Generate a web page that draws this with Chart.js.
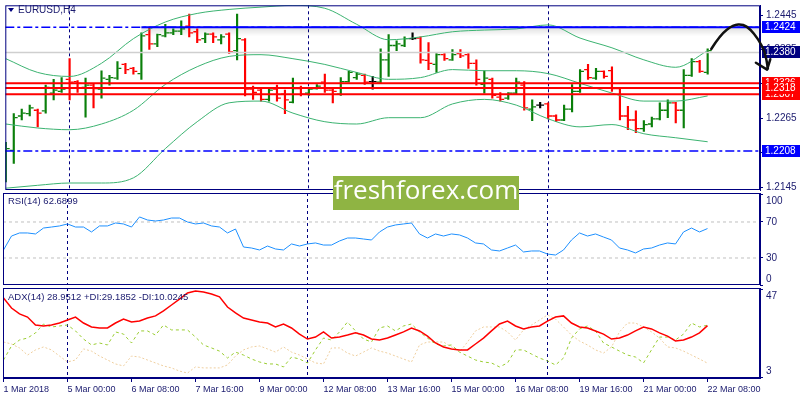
<!DOCTYPE html>
<html>
<head>
<meta charset="utf-8">
<script src="https://cdn.jsdelivr.net/npm/chart.js@4.4.1/dist/chart.umd.min.js"></script>
<style>
  html, body { margin: 0; padding: 0; background: #fff; }
  #wrap { position: relative; width: 800px; height: 400px; }
  canvas { position: absolute; left: 0; top: 0; }
</style>
</head>
<body>
<div id="wrap">
  <canvas id="main" width="800" height="400"></canvas>
  <canvas id="rsi" width="800" height="400"></canvas>
  <canvas id="adx" width="800" height="400"></canvas>
</div>
<script>
// time axis: one label every 8 bars (H4)
const tickIdx = [0, 8, 16, 24, 32, 40, 48, 56, 64, 72, 80, 88];
const tickText = ['1 Mar 2018', '5 Mar 00:00', '6 Mar 08:00', '7 Mar 16:00', '9 Mar 00:00', '12 Mar 08:00',
  '13 Mar 16:00', '15 Mar 00:00', '16 Mar 08:00', '19 Mar 16:00', '21 Mar 00:00', '22 Mar 08:00'];
const separators = [8, 38, 68]; // week starts

// EURUSD H4 bars
const open = [1.2205,1.2209,1.2269,1.2273,1.2279,1.2278,1.2309,1.2312,1.2333,1.2329,
  1.2319,1.2323,1.2316,1.2333,1.2335,1.2359,1.2352,1.2343,1.2411,1.2395,
  1.2409,1.2414,1.2417,1.2426,1.2416,1.2404,1.2412,1.2402,1.2412,1.2383,
  1.2402,1.2316,1.2314,1.2298,1.2316,1.2307,1.2293,1.2317,1.2309,1.2317,
  1.2328,1.2314,1.2307,1.2329,1.2336,1.2340,1.2329,1.2328,1.2367,1.2392,
  1.2392,1.2404,1.2405,1.2366,1.2359,1.2376,1.2367,1.2378,1.2376,1.2361,
  1.2324,1.2333,1.2302,1.2300,1.2309,1.2323,1.2281,1.2288,1.2290,1.2269,
  1.2262,1.2281,1.2312,1.2350,1.2335,1.2347,1.2348,1.2317,1.2269,1.2262,
  1.2247,1.2255,1.2264,1.2279,1.2292,1.2279,1.2340,1.2364,1.2345];
const high = [1.2223,1.2273,1.2281,1.2288,1.2281,1.2323,1.2333,1.2336,1.2369,1.2331,
  1.2335,1.2326,1.2348,1.2340,1.2364,1.2361,1.2354,1.2414,1.2424,1.2412,
  1.2429,1.2421,1.2435,1.2447,1.2421,1.2414,1.2414,1.2411,1.2414,1.2447,
  1.2404,1.2321,1.2316,1.2316,1.2323,1.2314,1.2335,1.2321,1.2317,1.2324,
  1.2342,1.2316,1.2336,1.2347,1.2345,1.2342,1.2338,1.2386,1.2411,1.2400,
  1.2407,1.2414,1.2407,1.2397,1.2378,1.2378,1.2385,1.2385,1.2378,1.2367,
  1.2348,1.2335,1.2310,1.2310,1.2335,1.2329,1.2297,1.2293,1.2292,1.2271,
  1.2288,1.2324,1.2350,1.2359,1.2352,1.2348,1.2355,1.2319,1.2286,1.2278,
  1.2261,1.2267,1.2292,1.2297,1.2293,1.2350,1.2369,1.2366,1.2386];
const low = [1.2154,1.2186,1.2262,1.2269,1.2250,1.2274,1.2297,1.2310,1.2297,1.2310,
  1.2267,1.2283,1.2300,1.2323,1.2333,1.2343,1.2342,1.2333,1.2385,1.2390,
  1.2407,1.2411,1.2411,1.2407,1.2397,1.2397,1.2397,1.2395,1.2378,1.2367,
  1.2304,1.2298,1.2295,1.2295,1.2295,1.2273,1.2292,1.2304,1.2305,1.2316,
  1.2310,1.2292,1.2305,1.2328,1.2333,1.2324,1.2316,1.2326,1.2338,1.2383,
  1.2390,1.2402,1.2361,1.2350,1.2345,1.2366,1.2366,1.2371,1.2352,1.2323,
  1.2309,1.2300,1.2295,1.2298,1.2307,1.2279,1.2261,1.2283,1.2264,1.2259,
  1.2261,1.2276,1.2310,1.2333,1.2333,1.2335,1.2312,1.2262,1.2245,1.2240,
  1.2242,1.2250,1.2262,1.2266,1.2257,1.2248,1.2338,1.2345,1.2342];
const close = [1.2212,1.2266,1.2274,1.2283,1.2274,1.2319,1.2314,1.2316,1.2328,1.2326,
  1.2323,1.2317,1.2335,1.2336,1.2352,1.2350,1.2347,1.2409,1.2395,1.2411,
  1.2414,1.2417,1.2421,1.2414,1.2402,1.2412,1.2407,1.2407,1.2381,1.2404,
  1.2316,1.2310,1.2298,1.2314,1.2300,1.2297,1.2317,1.2307,1.2316,1.2321,
  1.2314,1.2312,1.2329,1.2345,1.2342,1.2328,1.2329,1.2367,1.2392,1.2395,
  1.2404,1.2404,1.2367,1.2361,1.2376,1.2369,1.2376,1.2374,1.2361,1.2333,
  1.2335,1.2305,1.2298,1.2309,1.2328,1.2283,1.2285,1.2288,1.2269,1.2262,
  1.2281,1.2312,1.2347,1.2336,1.2347,1.2338,1.2317,1.2269,1.2262,1.2247,
  1.2254,1.2264,1.2279,1.2292,1.2279,1.2340,1.2364,1.2347,1.2383];

// Bollinger bands, read every 4 bars
const bbIdx = [0,4,8,12,16,20,24,28,32,36,40,44,48,52,56,60,64,68,72,76,80,84,88];
const bbUpper = [1.2369,1.2345,1.2338,1.2361,1.2404,1.2433,1.2448,1.2455,1.2459,1.2462,1.2457,1.2429,
  1.2402,1.2407,1.2416,1.2419,1.2421,1.2428,1.2405,1.2388,1.2367,1.2354,1.2383];
const bbMid = [1.2255,1.2248,1.2245,1.2255,1.2279,1.2324,1.2355,1.2373,1.2376,1.2369,1.2359,1.2345,
  1.2333,1.2336,1.2350,1.2348,1.2348,1.2343,1.2326,1.2309,1.2295,1.2295,1.2304];
const bbLower = [1.2143,1.2148,1.2152,1.2152,1.2161,1.2212,1.2259,1.2292,1.2295,1.2274,1.2259,1.2255,
  1.2266,1.2266,1.2290,1.2298,1.2288,1.2264,1.2250,1.2254,1.2238,1.2231,1.2224];

// horizontal levels
const levelGray = 1.2380;
const levelBlue = [1.2424, 1.2208];
const trendStart = 17; // solid 1.2424 ray starts here
const levelRed = [1.2326, 1.2307, 1.2318];
const priceTicks = [1.2145, 1.2205, 1.2265, 1.2325, 1.2385, 1.2445];

// hand-drawn forecast arrow, [bar, price]
const arrowPath = [[88.45,1.2386],[89.6,1.2411],[91.2,1.2428],[92.45,1.2429],[93.3,1.2421],
  [94.3,1.2404],[95.2,1.2381],[95.55,1.2352]];
const arrowHead = [[94.05,1.2362],[95.45,1.2350],[95.85,1.2368]];

// RSI(14)
const rsi = [38.9,54.4,57.8,57.8,56.7,63.3,64.4,65.6,67.8,64.4,
  64.4,58.9,65.6,65.6,68.9,67.8,64.4,75.6,72.2,71.1,
  72.2,74.4,74.4,70.0,67.8,68.9,65.6,64.4,57.8,62.2,
  42.2,41.1,38.9,43.3,40.0,38.9,45.6,43.3,45.6,46.7,
  44.4,44.4,48.9,52.2,52.2,51.1,50.0,58.9,64.4,66.7,
  67.8,68.9,56.7,52.2,56.7,54.4,56.7,55.6,52.2,46.7,
  45.6,38.9,37.8,41.1,44.4,36.7,37.8,37.8,34.4,33.3,
  38.9,50.0,57.8,54.4,56.7,53.3,50.0,41.1,38.9,35.6,
  40.0,41.1,44.4,46.7,45.6,58.9,63.3,58.9,62.7];
const rsiLevels = [30, 70];
const rsiTicks = [0, 30, 70, 100];

// ADX(14)
const adx = [43.0,37.9,34.9,33.3,29.3,28.8,29.3,30.3,31.8,33.3,
  30.3,28.3,27.8,27.8,30.3,32.3,30.8,31.3,32.8,33.9,
  36.4,39.4,42.4,45.5,46.5,46.0,45.0,43.5,38.4,35.4,
  32.8,31.8,30.8,30.3,28.3,29.8,27.8,24.7,22.2,23.2,
  25.8,22.7,23.2,24.2,25.3,24.2,22.2,21.7,22.7,24.2,
  25.8,27.8,26.3,23.7,20.2,18.2,17.2,16.7,16.7,19.7,
  22.7,26.3,29.8,31.3,28.8,27.3,28.3,28.8,31.3,33.3,
  33.9,30.3,28.3,27.8,26.3,24.7,22.2,22.7,24.2,26.3,
  28.3,27.3,25.3,23.7,21.2,21.7,23.2,25.3,29.0];
const pdi = [11.6,18.7,21.7,22.7,25.3,29.8,28.3,28.8,29.3,26.3,
  22.2,19.2,20.2,19.2,25.8,24.7,20.2,26.3,26.3,24.2,
  29.3,26.8,26.8,26.8,23.2,19.2,17.7,16.1,12.6,15.6,
  14.1,12.1,10.6,9.6,9.6,8.1,13.1,12.1,10.1,16.7,
  22.7,21.7,25.8,30.8,26.3,22.2,20.7,27.8,28.8,26.3,
  28.8,29.8,25.8,22.7,19.7,18.7,19.2,15.6,13.6,11.6,
  10.6,10.1,8.1,10.1,16.7,16.7,14.6,12.6,11.1,9.1,
  12.6,22.7,27.3,28.8,26.3,20.2,18.2,16.1,14.1,13.1,
  10.1,16.7,23.2,23.2,21.7,24.7,30.3,28.3,29.2];
const mdi = [20.7,19.7,17.7,14.1,16.7,18.2,16.7,13.6,10.6,11.6,
  17.2,16.1,13.6,11.6,9.6,8.6,13.6,13.1,11.6,10.1,
  8.6,7.6,6.0,5.0,8.1,7.6,7.6,7.6,9.1,13.6,
  16.7,18.2,18.7,17.2,15.6,18.2,15.6,14.1,12.1,10.1,
  9.6,17.7,17.7,15.1,13.6,15.6,17.7,16.1,15.1,13.6,
  12.1,10.6,19.2,20.7,20.7,20.7,18.2,15.6,20.7,26.3,
  28.3,28.3,28.3,25.8,21.7,26.8,29.3,31.8,34.4,32.3,
  28.3,24.2,21.2,19.2,16.7,15.1,18.2,25.8,30.3,30.3,
  28.3,25.8,22.7,18.2,17.7,16.1,14.1,12.1,10.0];
const adxTicks = [3, 47];

const NAVY = '#000080';
const LABEL = '#1a1a6e';
const GREEN = '#0a7f0a';
const RED = '#ff0000';
const FONT = '"Liberation Sans", Arial, sans-serif';
const X_MIN = -0.0625, X_MAX = 94.5625;

Chart.defaults.font.family = FONT;

const idx = open.map((_, i) => i);
const barColor = idx.map(i => close[i] > open[i] ? GREEN : (close[i] < open[i] ? RED : '#000'));
const series = arr => arr.map((v, i) => ({ x: i, y: v }));
const hline = (p, from, color, dash, width, order) => ({
  type: 'line', data: [{ x: from, y: p }, { x: X_MAX, y: p }],
  borderColor: color, borderDash: dash, borderWidth: width, pointRadius: 0, order: order
});

const xHidden = {
  type: 'linear', min: X_MIN, max: X_MAX, display: false, offset: false, grid: { offset: false }
};

function rightAxis(min, max, ticks, fmt) {
  return {
    position: 'right', min: min, max: max,
    afterBuildTicks(s) { s.ticks = ticks.map(v => ({ value: v })); },
    afterFit(s) { s.width = 40; s.paddingTop = 0; s.paddingBottom = 0; },
    ticks: { color: LABEL, font: { size: 10 }, padding: 3, autoSkip: false, callback: fmt },
    grid: { drawOnChartArea: false, tickLength: 3, color: NAVY },
    border: { color: NAVY }
  };
}

// panel frame + week separators
const frame = {
  id: 'frame',
  beforeDatasetsDraw(chart) {
    const { ctx, chartArea: a, scales: { x } } = chart;
    ctx.save();
    ctx.strokeStyle = NAVY;
    ctx.lineWidth = 1;
    ctx.setLineDash([3, 3]);
    separators.forEach(s => {
      const px = Math.floor(x.getPixelForValue(s)) + 0.5;
      ctx.beginPath();
      ctx.moveTo(px, a.top);
      ctx.lineTo(px, a.bottom);
      ctx.stroke();
    });
    ctx.restore();
  },
  afterDraw(chart) {
    const { ctx, chartArea: a } = chart;
    ctx.save();
    ctx.strokeStyle = NAVY;
    ctx.lineWidth = 1;
    ctx.strokeRect(a.left + 0.5, a.top + 0.5, a.right - a.left - 1, a.bottom - a.top - 1);
    ctx.restore();
  }
};

function caption(text, y) {
  return {
    id: 'caption',
    afterDraw(chart) {
      const ctx = chart.ctx;
      ctx.save();
      ctx.fillStyle = LABEL;
      ctx.font = '9.5px ' + FONT;
      ctx.textBaseline = 'middle';
      ctx.fillText(text, 8, y);
      ctx.restore();
    }
  };
}

const mainDecor = {
  id: 'mainDecor',
  beforeDatasetsDraw(chart) {
    // soft shadow under the 1.2424 ray
    const { ctx, chartArea: a, scales: { x, y } } = chart;
    const py = y.getPixelForValue(levelBlue[0]);
    const px = x.getPixelForValue(trendStart);
    const g = ctx.createLinearGradient(0, py, 0, py + 9);
    g.addColorStop(0, 'rgba(0,0,0,0.13)');
    g.addColorStop(1, 'rgba(0,0,0,0)');
    ctx.save();
    ctx.fillStyle = g;
    ctx.fillRect(px, py, a.right - px, 9);
    ctx.restore();
  },
  afterDraw(chart) {
    const { ctx, chartArea: a, scales: { x, y } } = chart;
    ctx.save();
    // price tags on the right
    const tags = [
      { p: levelBlue[0], bg: '#0000ff' },
      { p: levelGray, bg: NAVY },
      { p: levelRed[0], bg: RED },
      { p: levelRed[1], bg: RED },
      { p: levelRed[2], bg: RED },
      { p: levelBlue[1], bg: '#0000ff' }
    ];
    ctx.font = '10px ' + FONT;
    ctx.textBaseline = 'middle';
    tags.forEach(t => {
      const py = Math.round(y.getPixelForValue(t.p));
      ctx.fillStyle = t.bg;
      ctx.fillRect(a.right + 2, py - 6, 38, 12);
      ctx.fillStyle = '#fff';
      ctx.fillText(t.p.toFixed(4), a.right + 5, py + 0.5);
    });

    // title
    ctx.fillStyle = NAVY;
    ctx.beginPath();
    ctx.moveTo(8, 8); ctx.lineTo(14, 8); ctx.lineTo(11, 12); ctx.closePath();
    ctx.fill();
    ctx.fillStyle = LABEL;
    ctx.font = '10px ' + FONT;
    ctx.fillText('EURUSD,H4', 18, 10);

    // hand-drawn arrow
    const pts = arrowPath.map(([i, p]) => [x.getPixelForValue(i), y.getPixelForValue(p)]);
    ctx.strokeStyle = '#111';
    ctx.lineWidth = 2.5;
    ctx.lineCap = 'round';
    ctx.lineJoin = 'round';
    ctx.beginPath();
    ctx.moveTo(pts[0][0], pts[0][1]);
    for (let k = 1; k < pts.length - 1; k++) {
      const mx = (pts[k][0] + pts[k + 1][0]) / 2;
      const my = (pts[k][1] + pts[k + 1][1]) / 2;
      ctx.quadraticCurveTo(pts[k][0], pts[k][1], mx, my);
    }
    ctx.lineTo(pts[pts.length - 1][0], pts[pts.length - 1][1]);
    ctx.stroke();
    ctx.beginPath();
    arrowHead.forEach(([i, p], k) => {
      const hx = x.getPixelForValue(i), hy = y.getPixelForValue(p);
      if (k === 0) ctx.moveTo(hx, hy); else ctx.lineTo(hx, hy);
    });
    ctx.stroke();
    ctx.restore();
  }
};

const watermark = {
  id: 'watermark',
  afterDraw(chart) {
    const ctx = chart.ctx;
    ctx.save();
    ctx.fillStyle = '#8fb443';
    ctx.fillRect(333, 176, 186, 34);
    ctx.fillStyle = '#fff';
    ctx.font = '26px "Open Sans", sans-serif';
    ctx.textAlign = 'center';
    ctx.textBaseline = 'middle';
    ctx.fillText('freshforex.com', 426, 192);
    ctx.restore();
  }
};

const baseOptions = {
  responsive: false,
  animation: false,
  events: [],
  devicePixelRatio: 1,
  plugins: { legend: { display: false }, tooltip: { enabled: false } }
};

// price panel
const mainChart = new Chart(document.getElementById('main'), {
  type: 'line',
  data: {
    datasets: [
      hline(levelGray, X_MIN, '#cfcfcf', [], 1.5, 1),
      hline(levelBlue[0], X_MIN, '#0000ff', [9, 3, 3, 3], 1.5, 1),
      hline(levelBlue[0], trendStart, '#0000ff', [], 2, 1),
      hline(levelBlue[1], X_MIN, '#0000ff', [9, 3, 3, 3], 1.5, 1),
      ...levelRed.map(p => hline(p, X_MIN, RED, [], 2, 1)),
      ...[bbUpper, bbMid, bbLower].map(b => ({
        type: 'line', data: bbIdx.map((i, k) => ({ x: i, y: b[k] })),
        borderColor: '#3cb371', borderWidth: 1, pointRadius: 0,
        cubicInterpolationMode: 'monotone', order: 3
      })),
      {
        type: 'line', showLine: false, data: idx.map(i => ({ x: i - 0.3, y: open[i] })),
        pointStyle: 'line', pointRadius: 1.5, pointBorderWidth: 1.3,
        pointBorderColor: barColor, pointBackgroundColor: barColor, order: 4
      },
      {
        type: 'line', showLine: false, data: idx.map(i => ({ x: i + 0.3, y: close[i] })),
        pointStyle: 'line', pointRadius: 1.5, pointBorderWidth: 1.3,
        pointBorderColor: barColor, pointBackgroundColor: barColor, order: 4
      },
      {
        type: 'bar', data: idx.map(i => ({ x: i, y: [low[i], high[i]] })),
        backgroundColor: barColor, barThickness: 1.5, grouped: false, order: 5
      }
    ]
  },
  options: {
    ...baseOptions,
    layout: { padding: { left: 3, top: 3, right: 0, bottom: 210 } },
    scales: {
      x: xHidden,
      y: rightAxis(1.21398, 1.24622, priceTicks, v => v.toFixed(4))
    }
  },
  plugins: [frame, mainDecor]
});

// RSI panel
new Chart(document.getElementById('rsi'), {
  type: 'line',
  data: {
    datasets: [
      ...rsiLevels.map(v => hline(v, X_MIN, '#c0c0c0', [3, 3], 1, 2)),
      { data: series(rsi), borderColor: '#1e90ff', borderWidth: 1, pointRadius: 0, order: 1 }
    ]
  },
  options: {
    ...baseOptions,
    layout: { padding: { left: 3, top: 193, right: 0, bottom: 115 } },
    scales: {
      x: xHidden,
      y: rightAxis(0, 102.2, rsiTicks, v => v === 100 ? ['', '100'] : (v === 0 ? ['0', ''] : String(v)))
    }
  },
  plugins: [frame, caption('RSI(14) 62.6899', 201)]
});

// ADX panel with time axis
new Chart(document.getElementById('adx'), {
  type: 'line',
  data: {
    datasets: [
      { data: series(mdi), borderColor: '#efcf9f', borderDash: [2, 2], borderWidth: 1, pointRadius: 0, order: 3 },
      { data: series(pdi), borderColor: '#9acd32', borderDash: [3, 3], borderWidth: 1, pointRadius: 0, order: 2 },
      { data: series(adx), borderColor: RED, borderWidth: 1.5, pointRadius: 0, order: 1 }
    ]
  },
  options: {
    ...baseOptions,
    layout: { padding: { left: 3, top: 288, right: 0, bottom: 0 } },
    scales: {
      x: {
        type: 'linear', min: X_MIN, max: X_MAX, offset: false,
        afterBuildTicks(s) { s.ticks = tickIdx.map(v => ({ value: v })); },
        afterFit(s) { s.height = 22; s.paddingLeft = 0; s.paddingRight = 0; },
        ticks: {
          align: 'start', autoSkip: false, maxRotation: 0, minRotation: 0,
          color: LABEL, font: { size: 9 }, padding: 2,
          callback: (v, i) => tickText[i]
        },
        grid: { drawOnChartArea: false, offset: false, tickLength: 4, color: NAVY },
        border: { color: NAVY }
      },
      y: rightAxis(2.5, 48.0, adxTicks, v => v === 47 ? ['', '47'] : ['3', ''])
    }
  },
  plugins: [frame, caption('ADX(14) 28.9512 +DI:29.1852 -DI:10.0245', 297), watermark]
});
</script>
</body>
</html>
